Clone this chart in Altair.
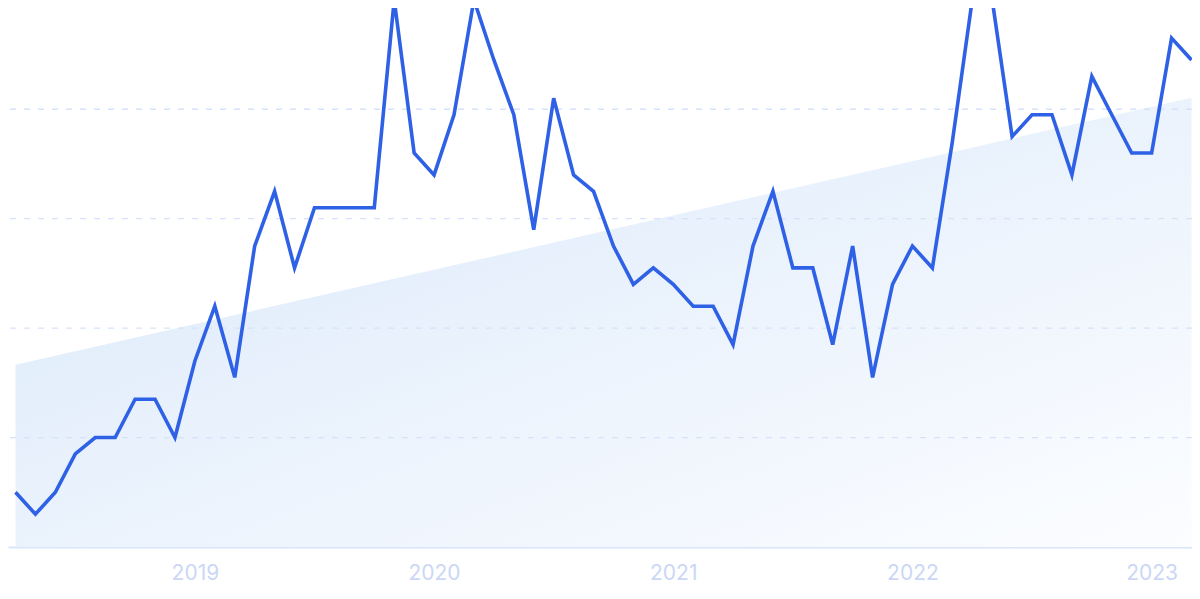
import altair as alt
import pandas as pd

# Monthly values, Apr 2018 .. Mar 2023 (relative interest, 0-100)
start_year, start_month = 2018, 4
values = [10, 6, 10, 17, 20, 20, 27, 27, 20,
          34, 44, 31, 55, 65, 51, 62, 62, 62, 62, 100, 72,
          68, 79, 100, 89, 79, 58, 82, 68, 65, 55, 48, 51,
          48, 44, 44, 37, 55, 65, 51, 51, 37, 55, 31, 48,
          55, 51, 74, 100, 100, 75, 79, 79, 68, 86, 79, 72,
          72, 93, 89]
months = []
y, m = start_year, start_month
for _ in values:
    months.append(f"{y}-{m:02d}")
    m += 1
    if m > 12:
        m, y = 1, y + 1

# Trend line endpoints (first and last month)
trend_idx = [0, len(values) - 1]
trend_vals = [33.3, 82.1]

# Year tick positions (January of each year) and labels
year_ticks = [9, 21, 33, 45, 57]
grid_vals = [20, 40, 60, 80, 100]

df = pd.DataFrame({"i": list(range(len(values))), "month": months, "v": values})
trend = pd.DataFrame({"i": trend_idx, "v": trend_vals})
grid = pd.DataFrame({"g": grid_vals})

xscale = alt.Scale(domain=[-0.376, 59.025], nice=False, zero=False)
yscale = alt.Scale(domain=[0, 98.5], nice=False, zero=True)

xaxis = alt.Axis(
    values=year_ticks,
    labelExpr="'' + (2018 + (datum.value + 3) / 12)",
    title=None, grid=False, ticks=False,
    domain=True, domainColor="#d8e5fb", domainWidth=2,
    labelColor="#cbd7f6", labelFont="Inter", labelFontSize=21,
    labelPadding=15, labelFlush=False,
)

area = alt.Chart(trend).mark_area(
    color=alt.Gradient(
        gradient="linear",
        stops=[alt.GradientStop(color="#d9e8fa", offset=0),
               alt.GradientStop(color="#fcfdff", offset=1)],
        x1=0, y1=0, x2=1, y2=1,
    ),
    opacity=1,
).encode(
    x=alt.X("i:Q", scale=xscale, axis=xaxis),
    y=alt.Y("v:Q", scale=yscale, axis=None),
)

rules = alt.Chart(grid).mark_rule(
    color="#d4e3fb", strokeDash=[6, 8], strokeWidth=1.3, clip=True
).encode(y=alt.Y("g:Q", scale=yscale, axis=None))

line = alt.Chart(df).mark_line(
    color="#2e61e6", strokeWidth=3.6, clip=True
).encode(
    x=alt.X("i:Q", scale=xscale, axis=xaxis),
    y=alt.Y("v:Q", scale=yscale, axis=None),
)

chart = alt.layer(area, rules, line).properties(
    width=1184, height=539, padding=0, background="white"
).configure_view(strokeWidth=0)

chart.save("out.html", embed_options={"renderer": "svg", "actions": False})
